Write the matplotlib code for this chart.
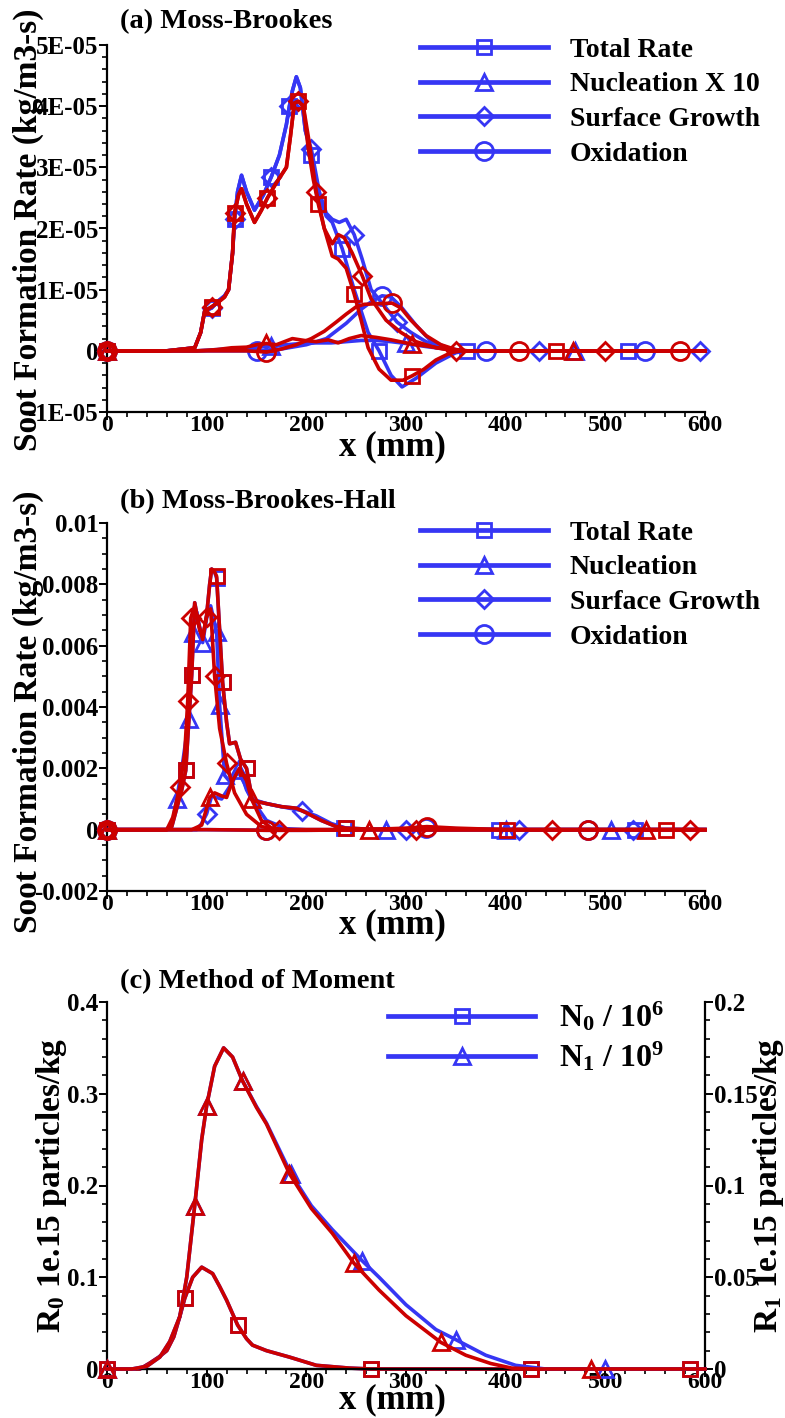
import numpy as np
import matplotlib
matplotlib.use('Agg')
import matplotlib.pyplot as plt
from matplotlib.lines import Line2D
from matplotlib.ticker import MultipleLocator, FuncFormatter

# ---------------------------------------------------------------------------
# (a) Moss-Brookes rates, values in units of 1E-05 kg/m3-s
# ---------------------------------------------------------------------------
a_red_total_x = [0, 60, 88, 94, 98, 105, 112, 118, 122, 126, 128, 132, 135, 140, 148, 155, 161, 170, 180, 184,
                 188, 192, 197, 202, 207, 212, 218, 226, 232, 240, 248, 255, 262, 273, 285, 297, 306, 318, 330, 345,
                 355, 370, 400, 451, 500, 550, 600]
a_red_total_y = [0, 0, 0.05, 0.3, 0.65, 0.72, 0.8, 0.88, 1.0, 1.6, 2.25, 2.55, 2.65, 2.4, 2.1, 2.3, 2.5, 2.75, 3.0, 3.5,
                 4.05, 4.08, 4.0, 3.3, 2.8, 2.4, 2.0, 1.55, 1.5, 1.35, 0.93, 0.5, 0.05, -0.3, -0.48, -0.48, -0.41, -0.3, -0.15, -0.03,
                 0, 0, 0, 0, 0, 0, 0]
a_red_total_marks = [0, 105, 128, 161, 192, 212, 248, 306, 451]

a_red_sg_x = [0, 60, 88, 94, 98, 105, 112, 118, 122, 126, 128, 132, 135, 140, 148, 155, 161, 170, 180, 184,
              188, 192, 197, 203, 210, 218, 226, 232, 238, 246, 256, 265, 280, 295, 310, 330, 350, 370, 400, 435,
              500, 550, 600]
a_red_sg_y = [0, 0, 0.05, 0.3, 0.65, 0.72, 0.8, 0.88, 1.0, 1.6, 2.25, 2.55, 2.65, 2.4, 2.1, 2.3, 2.5, 2.75, 3.0, 3.5,
              4.05, 4.08, 4.0, 3.4, 2.6, 2.0, 1.75, 1.9, 1.85, 1.6, 1.23, 0.85, 0.5, 0.3, 0.15, 0.05, 0, 0, 0, 0,
              0, 0, 0]
a_red_sg_marks = [0, 105, 128, 161, 192, 210, 256, 350, 500]

a_red_ox_x = [0, 100, 140, 160, 175, 190, 205, 218, 230, 240, 250, 258, 270, 286, 295, 305, 320, 335, 350, 362,
              380, 413, 450, 500, 575, 600]
a_red_ox_y = [0, 0, 0, -0.02, 0.03, 0.1, 0.2, 0.32, 0.47, 0.6, 0.72, 0.76, 0.77, 0.78, 0.7, 0.5, 0.25, 0.1, 0.02, 0,
              0, 0, 0, 0, 0, 0]
a_red_ox_marks = [0, 160, 286, 413, 575]

a_red_nuc_x = [0, 90, 110, 125, 140, 150, 160, 170, 178, 186, 198, 210, 222, 232, 243, 255, 270, 285, 306, 320,
               340, 360, 380, 468, 600]
a_red_nuc_y = [0, 0, 0.02, 0.05, 0.06, 0.1, 0.12, 0.1, 0.15, 0.2, 0.17, 0.15, 0.18, 0.13, 0.2, 0.25, 0.22, 0.18, 0.11, 0.08,
               0.03, 0, 0, 0, 0]
a_red_nuc_marks = [0, 160, 306, 468]

a_blue_total_x = [0, 60, 88, 94, 98, 105, 112, 118, 122, 126, 128, 131, 135, 140, 148, 157, 165, 173, 180, 183,
                  186, 190, 194, 199, 205, 213, 220, 226, 236, 248, 262, 273, 285, 296, 310, 330, 350, 361, 400, 450,
                  523, 600]
a_blue_total_y = [0, 0, 0.05, 0.3, 0.65, 0.7, 0.82, 0.9, 1.0, 1.6, 2.15, 2.6, 2.87, 2.6, 2.3, 2.55, 2.85, 3.2, 3.7, 4.0,
                  4.25, 4.48, 4.3, 3.6, 3.2, 2.5, 2.2, 2.1, 1.67, 1.0, 0.3, 0, -0.4, -0.59, -0.45, -0.2, -0.03, 0, 0, 0,
                  0, 0]
a_blue_total_marks = [0, 105, 128, 165, 183, 205, 236, 273, 361, 523]

a_blue_sg_x = [0, 60, 88, 94, 98, 105, 112, 118, 122, 126, 128, 131, 135, 140, 148, 157, 165, 173, 180, 183,
               186, 190, 194, 199, 205, 213, 220, 226, 233, 240, 248, 256, 265, 280, 291, 305, 320, 340, 355, 380,
               433, 500, 595, 600]
a_blue_sg_y = [0, 0, 0.05, 0.3, 0.65, 0.7, 0.82, 0.9, 1.0, 1.6, 2.15, 2.6, 2.87, 2.6, 2.3, 2.55, 2.85, 3.2, 3.7, 4.0,
               4.25, 4.48, 4.3, 3.6, 3.3, 2.6, 2.25, 2.15, 2.1, 2.15, 1.9, 1.5, 1.0, 0.7, 0.47, 0.3, 0.15, 0.03, 0, 0,
               0, 0, 0, 0]
a_blue_sg_marks = [0, 105, 128, 165, 183, 205, 248, 291, 433, 595]

a_blue_ox_x = [0, 100, 150, 175, 200, 220, 240, 255, 265, 276, 285, 295, 310, 325, 345, 360, 380, 450, 540, 600]
a_blue_ox_y = [0, 0, 0, 0.03, 0.1, 0.2, 0.45, 0.68, 0.8, 0.9, 0.88, 0.72, 0.42, 0.16, 0.03, 0, 0, 0, 0, 0]
a_blue_ox_marks = [0, 150, 276, 380, 540]

a_blue_nuc_x = [0, 90, 110, 130, 150, 165, 180, 195, 210, 225, 240, 255, 270, 285, 300, 320, 340, 360, 380, 470, 600]
a_blue_nuc_y = [0, 0, 0.02, 0.04, 0.06, 0.08, 0.1, 0.12, 0.13, 0.13, 0.15, 0.17, 0.17, 0.15, 0.12, 0.07, 0.03, 0, 0, 0, 0]
a_blue_nuc_marks = [0, 165, 300, 470]

# ---------------------------------------------------------------------------
# (b) Moss-Brookes-Hall rates, values in units of 1E-03 kg/m3-s
# ---------------------------------------------------------------------------
b_red_total_x = [0, 60, 65, 70, 75, 79, 82, 85, 88, 92, 96, 100, 103, 105, 108, 110, 113, 116, 120, 123,
                 129, 134, 140, 146, 160, 175, 190, 200, 215, 230, 240, 260, 300, 401, 561, 600]
b_red_total_y = [0, 0, 0.1, 0.7, 1.3, 1.93, 3.5, 5.05, 7.4, 6.7, 6.2, 7.0, 8.0, 8.5, 8.4, 8.26, 6.5, 4.8, 3.5, 2.8,
                 2.85, 2.3, 2.0, 0.95, 0.85, 0.75, 0.7, 0.55, 0.3, 0.1, 0.05, 0.02, 0, 0, 0, 0]
b_red_total_marks = [0, 79, 85, 110, 116, 140, 240, 401, 561]

b_red_sg_x = [0, 60, 66, 73, 78, 81, 84, 88, 93, 96, 100, 104, 108, 113, 120, 128, 140, 155, 173, 200,
              250, 310, 446, 585, 600]
b_red_sg_y = [0, 0, 0.4, 1.38, 2.5, 4.2, 6.9, 7.3, 6.5, 6.3, 6.95, 7.2, 5.0, 3.3, 2.16, 1.2, 0.5, 0.1, 0, 0,
              0, 0, 0, 0, 0]
b_red_sg_marks = [0, 73, 81, 84, 100, 108, 120, 173, 310, 446, 585]

b_red_nuc_x = [0, 85, 95, 100, 103, 108, 115, 120, 126, 133, 140, 145, 155, 165, 180, 263, 400, 541, 600]
b_red_nuc_y = [0, 0, 0.15, 0.7, 1.05, 1.2, 1.1, 1.05, 1.6, 2.0, 1.6, 1.0, 0.3, 0.05, 0, 0, 0, 0, 0]
b_red_nuc_marks = [0, 103, 145, 263, 541]

b_red_ox_x = [0, 100, 160, 200, 250, 300, 321, 350, 400, 483, 600]
b_red_ox_y = [0, 0, -0.02, -0.02, -0.01, 0.05, 0.1, 0.05, 0, 0, 0]
b_red_ox_marks = [0, 160, 321, 483]

b_blue_total_x = [0, 60, 65, 70, 75, 79, 82, 85, 88, 92, 96, 100, 103, 105, 108, 110, 113, 116, 120, 123,
                  129, 134, 140, 146, 160, 175, 190, 200, 215, 230, 238, 260, 300, 393, 530, 600]
b_blue_total_y = [0, 0, 0.1, 0.7, 1.3, 1.93, 3.5, 5.05, 7.4, 6.7, 6.2, 7.0, 8.0, 8.5, 8.4, 8.2, 6.5, 4.8, 3.5, 2.8,
                  2.85, 2.3, 2.0, 0.95, 0.85, 0.75, 0.7, 0.55, 0.3, 0.1, 0.06, 0.02, 0, 0, 0, 0]
b_blue_total_marks = [0, 79, 85, 110, 116, 140, 238, 393, 530]

b_blue_nuc_x = [0, 60, 66, 70, 76, 82, 86, 90, 96, 100, 104, 110, 113, 118, 125, 131, 138, 145, 160, 180,
                200, 220, 240, 280, 350, 400, 506, 600]
b_blue_nuc_y = [0, 0, 0.3, 1.0, 2.2, 3.6, 6.4, 7.1, 6.1, 6.9, 7.3, 6.45, 4.07, 1.77, 1.5, 1.93, 1.5, 1.0, 0.3, 0.03,
                0, 0, 0, 0, 0, 0, 0, 0]
b_blue_nuc_marks = [0, 70, 82, 86, 96, 110, 113, 118, 131, 280, 400, 506]

b_blue_sg_x = [0, 90, 95, 100, 105, 115, 125, 133, 140, 145, 160, 175, 196, 210, 225, 240, 260, 300, 413, 528, 600]
b_blue_sg_y = [0, 0, 0.2, 0.52, 1.1, 1.0, 1.5, 2.0, 1.3, 1.0, 0.85, 0.75, 0.62, 0.45, 0.2, 0.05, 0, 0, 0, 0, 0]
b_blue_sg_marks = [0, 100, 196, 300, 413, 528]

b_blue_ox_x = [0, 100, 160, 200, 250, 300, 320, 350, 400, 483, 600]
b_blue_ox_y = [0, 0, -0.02, -0.02, -0.01, 0.03, 0.06, 0.03, 0, 0, 0]
b_blue_ox_marks = [0, 160, 320, 483]

# ---------------------------------------------------------------------------
# (c) Method of moments: N0/1e6 on the R0 axis, N1/1e9 on the R1 axis
# ---------------------------------------------------------------------------
c_red_n0_x = [0, 33, 43, 52, 60, 67, 73, 78, 86, 95, 106, 113, 120, 131, 140, 146, 160, 183, 210, 243,
              265, 300, 425, 585, 600]
c_red_n0_y = [0, 0, 0.0065, 0.013, 0.02, 0.035, 0.057, 0.077, 0.1, 0.111, 0.104, 0.09, 0.075, 0.048, 0.033, 0.026,
              0.02, 0.013, 0.004, 0.001, 0, 0, 0, 0, 0]
c_red_n0_marks = [0, 78, 131, 265, 425, 585]

c_blue_n0_x = [0, 33, 43, 52, 60, 67, 73, 78, 86, 95, 106, 113, 120, 131, 140, 146, 160, 183, 210, 243,
               265, 300, 425, 585, 600]
c_blue_n0_y = [0, 0, 0.0065, 0.013, 0.02, 0.035, 0.057, 0.077, 0.1, 0.111, 0.104, 0.09, 0.075, 0.048, 0.033, 0.026,
               0.02, 0.013, 0.004, 0.001, 0, 0, 0, 0, 0]
c_blue_n0_marks = [0, 78, 131, 265, 425, 585]

c_red_n1_x = [0, 25, 40, 53, 63, 73, 80, 88, 95, 100, 108, 117, 126, 136, 150, 160, 183, 205, 226, 248,
              273, 300, 335, 360, 385, 406, 430, 486, 600]
c_red_n1_y = [0, 0, 0.0015, 0.0065, 0.015, 0.0285, 0.05, 0.089, 0.125, 0.1435, 0.165, 0.175, 0.17, 0.157, 0.1425,
              0.1335, 0.1065, 0.0875, 0.074, 0.0575, 0.043, 0.029, 0.0145, 0.0075, 0.003, 0.0005, 0, 0, 0]
c_red_n1_marks = [0, 88, 100, 136, 183, 248, 335, 486]

c_blue_n1_x = [0, 25, 40, 53, 63, 73, 80, 88, 95, 100, 108, 117, 126, 136, 150, 160, 185, 205, 226, 256,
               273, 300, 330, 350, 380, 410, 440, 500, 600]
c_blue_n1_y = [0, 0, 0.0015, 0.0065, 0.015, 0.0285, 0.05, 0.089, 0.125, 0.1435, 0.165, 0.175, 0.17, 0.157, 0.143,
               0.134, 0.106, 0.089, 0.076, 0.059, 0.05, 0.035, 0.0215, 0.016, 0.0075, 0.002, 0, 0, 0]
c_blue_n1_marks = [0, 88, 100, 136, 185, 256, 350, 500]

a_legend_labels = ['Total Rate', 'Nucleation X 10', 'Surface Growth', 'Oxidation']
b_legend_labels = ['Total Rate', 'Nucleation', 'Surface Growth', 'Oxidation']
c_legend_labels = [r'N$_{0}$ / 10$^{6}$', r'N$_{1}$ / 10$^{9}$']

BLUE = '#3636f4'
RED = '#cc0000'
LW = 2.6
MEW = 2.0
# marker shape and size per quantity
MK = {'total': ('s', 9.5), 'nuc': ('^', 12), 'sg': ('D', 9), 'ox': ('o', 13)}

W, H = 785, 1418

plt.rcParams['font.family'] = 'Liberation Serif'
plt.rcParams['font.weight'] = 'bold'
plt.rcParams['mathtext.fontset'] = 'custom'
plt.rcParams['mathtext.rm'] = 'Liberation Serif:bold'
plt.rcParams['mathtext.bf'] = 'Liberation Serif:bold'
plt.rcParams['mathtext.it'] = 'Liberation Serif:italic:bold'
plt.rcParams['mathtext.default'] = 'rm'
plt.rcParams['axes.linewidth'] = 1.6


def box(left, top, right, bottom):
    """Axes rectangle from pixel edges."""
    return [left / W, 1 - bottom / H, (right - left) / W, (bottom - top) / H]


def draw(ax, xs, ys, marks, color, kind, scale=1.0):
    xs = np.asarray(xs, dtype=float)
    ys = np.asarray(ys, dtype=float) * scale
    idx = sorted(set(int(np.argmin(np.abs(xs - m))) for m in marks))
    marker, ms = MK[kind]
    ax.plot(xs, ys, color=color, lw=LW, marker=marker, ms=ms, mfc='none',
            mec=color, mew=MEW, markevery=idx, clip_on=False, zorder=3)


def set_ticks(ax, axis='both'):
    ax.tick_params(axis=axis, which='major', direction='out', length=5.8, width=1.4)
    ax.tick_params(axis=axis, which='minor', direction='out', length=3.6, width=1.2)


def style_axis(ax, ymajor, yminor):
    ax.set_xlim(0, 600)
    ax.xaxis.set_major_locator(MultipleLocator(100))
    ax.xaxis.set_minor_locator(MultipleLocator(20))
    ax.yaxis.set_major_locator(MultipleLocator(ymajor))
    ax.yaxis.set_minor_locator(MultipleLocator(yminor))
    set_ticks(ax)
    ax.tick_params(axis='x', which='major', labelsize=17, pad=-3.5)
    ax.tick_params(axis='y', which='major', labelsize=18, pad=0.5)
    ax.spines['top'].set_visible(False)
    ax.spines['right'].set_visible(False)


def legend(ax, labels, kinds, anchor, fontsize, handlelength, textpad, spacing):
    handles = []
    for lab, kind in zip(labels, kinds):
        marker, ms = MK[kind]
        handles.append(Line2D([], [], color=BLUE, lw=LW + 0.8, marker=marker, ms=ms,
                              mfc='none', mec=BLUE, mew=MEW, label=lab))
    ax.legend(handles=handles, loc='upper left', bbox_to_anchor=anchor, frameon=False,
              borderaxespad=0, borderpad=0, handlelength=handlelength, handletextpad=textpad,
              labelspacing=spacing, prop={'size': fontsize, 'weight': 'bold'})


fig = plt.figure(figsize=(W / 100, H / 100), dpi=100)

# ---- panel (a) ----
ax_a = fig.add_axes(box(107, 45, 705, 412))
series_a = [
    (a_blue_total_x, a_blue_total_y, a_blue_total_marks, BLUE, 'total'),
    (a_blue_nuc_x, a_blue_nuc_y, a_blue_nuc_marks, BLUE, 'nuc'),
    (a_blue_sg_x, a_blue_sg_y, a_blue_sg_marks, BLUE, 'sg'),
    (a_blue_ox_x, a_blue_ox_y, a_blue_ox_marks, BLUE, 'ox'),
    (a_red_total_x, a_red_total_y, a_red_total_marks, RED, 'total'),
    (a_red_nuc_x, a_red_nuc_y, a_red_nuc_marks, RED, 'nuc'),
    (a_red_sg_x, a_red_sg_y, a_red_sg_marks, RED, 'sg'),
    (a_red_ox_x, a_red_ox_y, a_red_ox_marks, RED, 'ox'),
]
for xs, ys, mk, col, kind in series_a:
    draw(ax_a, xs, ys, mk, col, kind, scale=1e-5)
ax_a.set_ylim(-1e-5, 5e-5)
style_axis(ax_a, 1e-5, 0.2e-5)
ax_a.yaxis.set_major_formatter(FuncFormatter(lambda v, p: '0' if abs(v) < 1e-12 else f'{v:.0E}'))
legend(ax_a, a_legend_labels, ['total', 'nuc', 'sg', 'ox'], (0.523, 1.021), 20, 4.6, 0.8, 0.33)

# ---- panel (b) ----
ax_b = fig.add_axes(box(107, 523, 705, 891))
series_b = [
    (b_blue_total_x, b_blue_total_y, b_blue_total_marks, BLUE, 'total'),
    (b_blue_nuc_x, b_blue_nuc_y, b_blue_nuc_marks, BLUE, 'nuc'),
    (b_blue_sg_x, b_blue_sg_y, b_blue_sg_marks, BLUE, 'sg'),
    (b_blue_ox_x, b_blue_ox_y, b_blue_ox_marks, BLUE, 'ox'),
    (b_red_total_x, b_red_total_y, b_red_total_marks, RED, 'total'),
    (b_red_nuc_x, b_red_nuc_y, b_red_nuc_marks, RED, 'nuc'),
    (b_red_sg_x, b_red_sg_y, b_red_sg_marks, RED, 'sg'),
    (b_red_ox_x, b_red_ox_y, b_red_ox_marks, RED, 'ox'),
]
for xs, ys, mk, col, kind in series_b:
    draw(ax_b, xs, ys, mk, col, kind, scale=1e-3)
ax_b.set_ylim(-0.002, 0.01)
style_axis(ax_b, 0.002, 0.0005)
ax_b.yaxis.set_major_formatter(FuncFormatter(lambda v, p: '0' if abs(v) < 1e-12 else f'{v:g}'))
legend(ax_b, b_legend_labels, ['total', 'nuc', 'sg', 'ox'], (0.523, 1.007), 20, 4.6, 0.8, 0.33)

# ---- panel (c) ----
ax_c = fig.add_axes(box(107, 1002, 705, 1369))
ax_c2 = ax_c.twinx()
draw(ax_c, c_blue_n0_x, c_blue_n0_y, c_blue_n0_marks, BLUE, 'total')
draw(ax_c, c_red_n0_x, c_red_n0_y, c_red_n0_marks, RED, 'total')
draw(ax_c2, c_blue_n1_x, c_blue_n1_y, c_blue_n1_marks, BLUE, 'nuc')
draw(ax_c2, c_red_n1_x, c_red_n1_y, c_red_n1_marks, RED, 'nuc')
ax_c.set_ylim(0, 0.4)
ax_c2.set_ylim(0, 0.2)
style_axis(ax_c, 0.1, 0.02)
ax_c2.yaxis.set_major_locator(MultipleLocator(0.05))
ax_c2.yaxis.set_minor_locator(MultipleLocator(0.01))
set_ticks(ax_c2, 'y')
ax_c2.tick_params(axis='y', which='major', labelsize=18, pad=0.5)
ax_c2.spines['top'].set_visible(False)
ax_c2.spines['left'].set_visible(False)
for a in (ax_c, ax_c2):
    a.yaxis.set_major_formatter(FuncFormatter(lambda v, p: '0' if abs(v) < 1e-12 else f'{v:g}'))
legend(ax_c2, c_legend_labels, ['total', 'nuc'], (0.47, 1.005), 23, 4.6, 0.75, 0.2)

# ---- titles and axis labels ----
for title, ypx in [('(a) Moss-Brookes', 22), ('(b) Moss-Brookes-Hall', 502), ('(c) Method of Moment', 982)]:
    fig.text(120 / W, 1 - ypx / H, title, fontsize=20.5, fontweight='bold', ha='left', va='center')

for ypx in (447, 925, 1400):
    fig.text(392 / W, 1 - ypx / H, 'x (mm)', fontsize=25, fontweight='bold', ha='center', va='center')

fig.text(28 / W, 1 - 230 / H, 'Soot Formation Rate (kg/m3-s)', fontsize=24, fontweight='bold',
         rotation=90, ha='center', va='center')
fig.text(28 / W, 1 - 712 / H, 'Soot Formation Rate (kg/m3-s)', fontsize=24, fontweight='bold',
         rotation=90, ha='center', va='center')
fig.text(52 / W, 1 - 1185 / H, r'R$_{0}$ 1e.15 particles/kg', fontsize=24, fontweight='bold',
         rotation=90, ha='center', va='center')
fig.text(768 / W, 1 - 1185 / H, r'R$_{1}$ 1e.15 particles/kg', fontsize=24, fontweight='bold',
         rotation=90, ha='center', va='center')

fig.savefig('out.png', dpi=100)
plt.close(fig)
